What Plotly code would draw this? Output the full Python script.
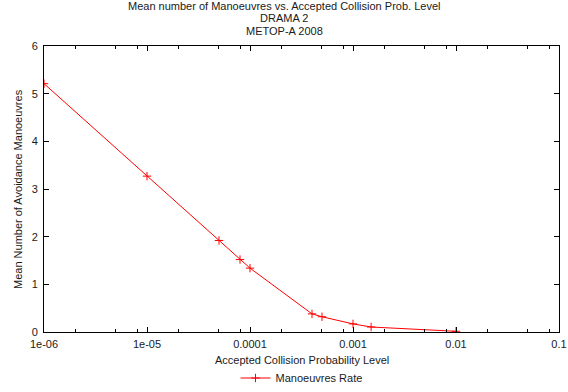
import plotly.graph_objects as go

# Data
prob_levels = [1e-6, 1e-5, 5e-5, 8e-5, 1e-4, 4e-4, 5e-4, 1e-3, 1.5e-3, 1e-2]
mean_manoeuvres = [5.21, 3.27, 1.92, 1.52, 1.34, 0.38, 0.32, 0.17, 0.105, 0.015]

x_tick_vals = [1e-6, 1e-5, 1e-4, 1e-3, 1e-2, 1e-1]
x_tick_text = ["1e-06", "1e-05", "0.0001", "0.001", "0.01", "0.1"]
x_minor_mult = [2, 5, 8]
x_minor_vals = [m * v for v in x_tick_vals[:-1] for m in x_minor_mult]
y_tick_vals = [0, 1, 2, 3, 4, 5, 6]

title_lines = ["Mean number of Manoeuvres vs. Accepted Collision Prob. Level",
               "DRAMA 2", "METOP-A 2008"]
x_title = "Accepted Collision Probability Level"
y_title = "Mean Number of Avoidance Manoeuvres"
series_name = "Manoeuvres Rate"

FONT = "Liberation Sans, Arial, sans-serif"
TXT = "#1a1a1a"

fig = go.Figure()
fig.add_trace(go.Scatter(
    x=prob_levels, y=mean_manoeuvres, name=series_name,
    mode="lines+markers",
    line=dict(color="#ff0000", width=1),
    marker=dict(symbol="cross-thin", size=6, line=dict(color="#ff0000", width=1)),
))

W, H = 568, 392
L, R, T, B = 44, 9, 46, 60
ph = H - T - B
pw = W - L - R

def py(pix):
    """page pixel y -> paper y"""
    return ((H - B) - pix) / ph

def px(pix):
    return (pix - L) / pw

fig.update_layout(
    width=W, height=H,
    margin=dict(l=L, r=R, t=T, b=B, autoexpand=False),
    paper_bgcolor="white", plot_bgcolor="white",
    font=dict(family=FONT, size=11, color=TXT),
    showlegend=True,
    legend=dict(orientation="h", x=px(301.5), xanchor="center",
                y=py(378), yanchor="middle",
                font=dict(family=FONT, size=11, color=TXT),
                bgcolor="rgba(0,0,0,0)"),
)

fig.update_xaxes(
    type="log", range=[-6, -1],
    tickmode="array", tickvals=x_tick_vals, ticktext=x_tick_text,
    ticks="inside", ticklen=5, tickwidth=1, tickcolor="black",
    showline=True, linecolor="black", linewidth=1, mirror="ticks",
    showgrid=False, zeroline=False, ticklabelstandoff=2,
    tickfont=dict(family=FONT, size=11, color=TXT),
    minor=dict(tickmode="array", tickvals=x_minor_vals, ticks="inside",
               ticklen=3, tickwidth=1, tickcolor="black", showgrid=False),
)
fig.update_yaxes(
    range=[0, 6],
    tickmode="array", tickvals=y_tick_vals,
    ticks="inside", ticklen=5, tickwidth=1, tickcolor="black",
    showline=True, linecolor="black", linewidth=1, mirror="ticks",
    showgrid=False, zeroline=False, ticklabelstandoff=3,
    tickfont=dict(family=FONT, size=11, color=TXT),
)

title_y = [6, 18.5, 31]
for line, yy in zip(title_lines, title_y):
    fig.add_annotation(text=line, xref="paper", yref="paper",
                       x=px(W / 2), y=py(yy), xanchor="center", yanchor="middle",
                       showarrow=False, font=dict(family=FONT, size=11, color=TXT))

fig.add_annotation(text=x_title, xref="paper", yref="paper",
                   x=0.5, y=py(360), xanchor="center", yanchor="middle",
                   showarrow=False, font=dict(family=FONT, size=11, color=TXT))
fig.add_annotation(text=y_title, xref="paper", yref="paper",
                   x=px(18), y=0.5, xanchor="center", yanchor="middle",
                   textangle=-90, showarrow=False,
                   font=dict(family=FONT, size=11, color=TXT))

fig.write_html("out.html")
